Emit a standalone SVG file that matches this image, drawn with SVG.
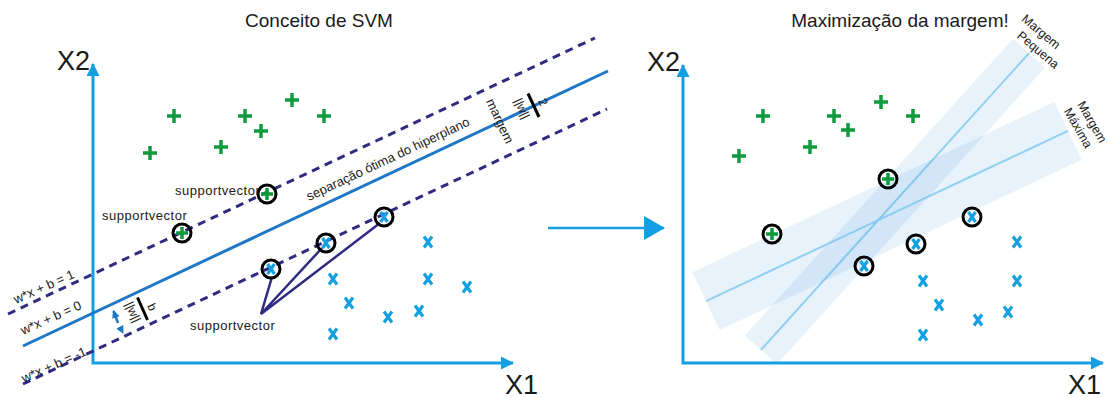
<svg xmlns="http://www.w3.org/2000/svg" width="1109" height="398" viewBox="0 0 1109 398">
<defs>
<style>
text{font-family:"Liberation Sans",Arial,sans-serif;fill:#1a1a1a}
.title{font-size:19px;text-anchor:middle}
.axl{font-size:27px}
.lbl{font-size:13px}
.frac{font-size:12px;text-anchor:middle}
.sv{font-size:13px;letter-spacing:0.5px}
.mg{font-size:12.5px;text-anchor:middle}
.axis{stroke:#149fe2;stroke-width:3;fill:none}
.hyp{stroke:#1f78c6;stroke-width:3;fill:none}
.dash{stroke:#2e2b80;stroke-width:3;stroke-dasharray:8 6;fill:none}
.plus{stroke:#109a3e;stroke-width:3.5;fill:none}
.cross{stroke:#16a0e0;stroke-width:3.2;fill:none}
.ring{stroke:#000;stroke-width:3;fill:none}
.svline{stroke:#2e2b80;stroke-width:2.5;fill:none}
.bar{stroke:#000;stroke-width:3}
.band{fill:#3c96dc;fill-opacity:0.12}
.bline{stroke:#7cc8f0;stroke-width:2;opacity:0.8}
</style>
<marker id="ah" viewBox="0 0 13 13" refX="12" refY="6.5" markerWidth="13" markerHeight="13" markerUnits="userSpaceOnUse" orient="auto-start-reverse"><path d="M0,0L13,6.5L0,13z" fill="#149fe2"/></marker>
<marker id="bigah" viewBox="0 0 21 24" refX="20" refY="12" markerWidth="21" markerHeight="24" markerUnits="userSpaceOnUse" orient="auto"><path d="M0,0L21,12L0,24z" fill="#149fe2"/></marker>
<marker id="smah" viewBox="0 0 8 8" refX="7" refY="4" markerWidth="8" markerHeight="8" markerUnits="userSpaceOnUse" orient="auto"><path d="M0,0L8,4L0,8z" fill="#1f78c6"/></marker>
<path id="p" class="plus" d="M-7,0H7M0,-7V7"/>
<path id="x" class="cross" d="M-4,-5.5L4,5.5M4,-5.5L-4,5.5"/>
<g id="sp"><circle class="ring" r="9"/><path class="plus" d="M-6,0H6M0,-6V6"/></g>
<g id="sx"><circle class="ring" r="9"/><path class="cross" d="M-3.5,-5L3.5,5M3.5,-5L-3.5,5"/></g>
</defs>
<rect width="1109" height="398" fill="#fff"/>

<g id="left-panel">
<text class="title" x="319" y="27">Conceito de SVM</text>
<g id="left-axes">
<path class="axis" d="M93,64V363H513" marker-start="url(#ah)" marker-end="url(#ah)"/>
<text class="axl" x="57" y="70">X2</text>
<text class="axl" x="505" y="394">X1</text>
</g>
<g id="left-lines">
<path class="dash" d="M8,314L595,38"/>
<path class="hyp" d="M23,346L608,71"/>
<path class="dash" d="M23,384L607,109"/>
<text class="lbl" transform="translate(16,304) rotate(-24)">w*x + b = 1</text>
<text class="lbl" transform="translate(23,335) rotate(-24)">w*x + b = 0</text>
<text class="lbl" transform="translate(24,383) rotate(-24)">w*x + b = -1</text>
<text class="lbl" transform="translate(309,201) rotate(-25.2)">separação ótima do hiperplano</text>
<text class="lbl" text-anchor="middle" transform="translate(500,121) rotate(65)" y="4.5">margem</text>
</g>
<g id="margin-fraction">
<line class="bar" x1="528" y1="93.5" x2="539" y2="117"/>
<text class="frac" transform="translate(543,102) rotate(65)" y="4">2</text>
<text class="frac" transform="translate(522,108.5) rotate(65)" y="4">||w||</text>
</g>
<g id="bias-fraction">
<line class="bar" x1="137.5" y1="297.5" x2="147.5" y2="320"/>
<text class="frac" transform="translate(152,307) rotate(65)" y="4">b</text>
<text class="frac" transform="translate(133,312) rotate(65)" y="4">||w||</text>
<path d="M118,323L113.5,311" stroke="#1f78c6" stroke-width="2.5" marker-end="url(#smah)"/>
<path d="M119.5,326.5L123,333" stroke="none" fill="none" marker-end="url(#smah)"/>
</g>
<g id="left-points">
<use href="#p" x="174" y="116"/>
<use href="#p" x="245" y="116"/>
<use href="#p" x="292" y="100"/>
<use href="#p" x="324" y="116"/>
<use href="#p" x="261" y="131"/>
<use href="#p" x="221" y="147"/>
<use href="#p" x="150" y="153"/>
<use href="#x" x="428" y="242"/>
<use href="#x" x="333" y="279"/>
<use href="#x" x="428" y="279"/>
<use href="#x" x="467" y="287"/>
<use href="#x" x="349" y="303"/>
<use href="#x" x="419" y="311"/>
<use href="#x" x="388" y="317"/>
<use href="#x" x="333" y="334"/>
</g>
<g id="left-support-vectors">
<path class="svline" d="M272,277L261,314L322,248M261,314L380,223"/>
<use href="#sp" x="182" y="233"/>
<use href="#sp" x="267" y="194"/>
<use href="#sx" x="271" y="269"/>
<use href="#sx" x="326" y="243"/>
<use href="#sx" x="384" y="217"/>
<text class="sv" x="175" y="195">supportvector</text>
<text class="sv" x="102" y="220">supportvector</text>
<text class="sv" x="190" y="330">supportvector</text>
</g>
</g>

<g id="connectors">
<line x1="548" y1="228" x2="664" y2="228" stroke="#149fe2" stroke-width="2.5" marker-end="url(#bigah)"/>
</g>

<g id="right-panel">
<text class="title" x="900" y="27">Maximização da margem!</text>
<g id="bands">
<g transform="translate(895,201.5) rotate(-47.9)">
<rect class="band" x="-200" y="-21.5" width="400" height="43"/>
<line class="bline" x1="-200" y1="0" x2="200" y2="0"/>
</g>
<g transform="translate(887,216) rotate(-25.2)">
<rect class="band" x="-200" y="-32" width="400" height="64"/>
<line class="bline" x1="-200" y1="0" x2="200" y2="0"/>
</g>
<text class="mg" transform="translate(1041,32) rotate(40)" y="4">Margem</text>
<text class="mg" transform="translate(1038,50) rotate(40)" y="4">Pequena</text>
<text class="mg" transform="translate(1092,122) rotate(60)" y="4">Margem</text>
<text class="mg" transform="translate(1078,128) rotate(60)" y="4">Máxima</text>
</g>
<g id="right-axes">
<path class="axis" d="M683,65V363H1103" marker-start="url(#ah)" marker-end="url(#ah)"/>
<text class="axl" x="647" y="71">X2</text>
<text class="axl" x="1068" y="394">X1</text>
</g>
<g id="right-points">
<use href="#p" x="763" y="116"/>
<use href="#p" x="834" y="116"/>
<use href="#p" x="881" y="102"/>
<use href="#p" x="913" y="116"/>
<use href="#p" x="848" y="130"/>
<use href="#p" x="810" y="147"/>
<use href="#p" x="739" y="156"/>
<use href="#x" x="1017" y="242"/>
<use href="#x" x="1017" y="281"/>
<use href="#x" x="923" y="281"/>
<use href="#x" x="939" y="305"/>
<use href="#x" x="1008" y="312"/>
<use href="#x" x="978" y="320"/>
<use href="#x" x="923" y="335"/>
<use href="#sp" x="772" y="234"/>
<use href="#sp" x="888" y="179"/>
<use href="#sx" x="864" y="266"/>
<use href="#sx" x="916" y="244"/>
<use href="#sx" x="972" y="217"/>
</g>
</g>
</svg>
